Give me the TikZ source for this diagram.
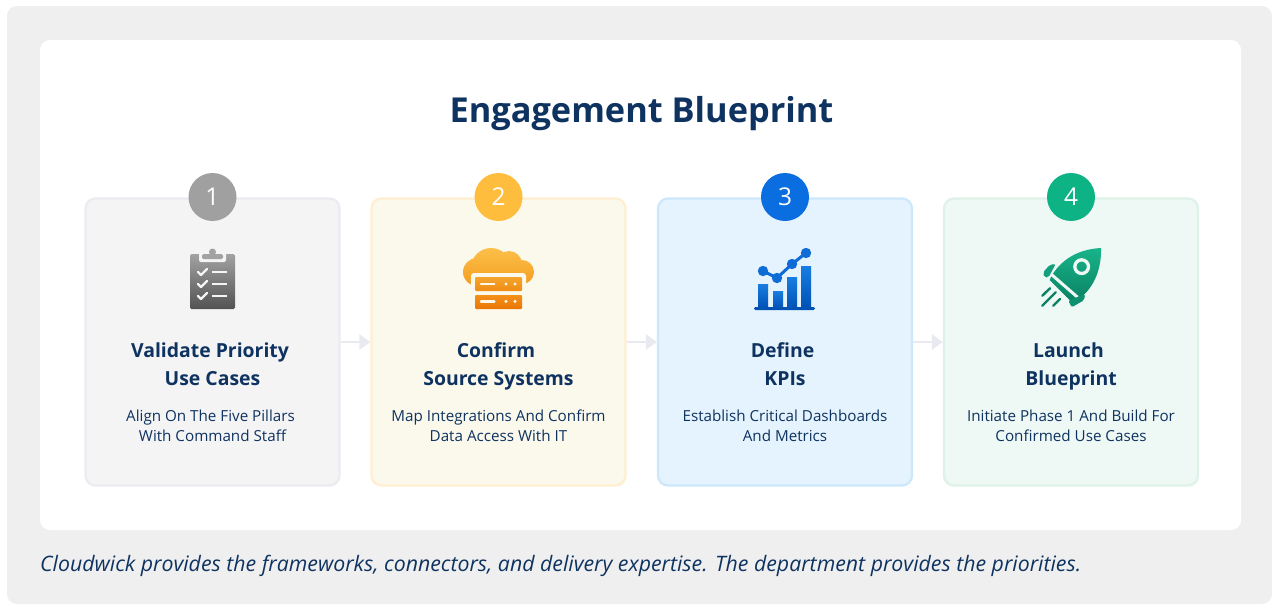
\documentclass[tikz,border=0pt]{standalone}
\usepackage{fontspec}
\setmainfont{Open Sans}
\usetikzlibrary{arrows.meta}
\definecolor{navy}{HTML}{0F3360}
\definecolor{outerbg}{HTML}{EFEFEF}
\definecolor{arrowc}{HTML}{E9EAF0}
\definecolor{cA}{HTML}{F4F4F5}\definecolor{bA}{HTML}{EBECF1}
\definecolor{cB}{HTML}{FBF8EC}\definecolor{bB}{HTML}{FFEFD0}
\definecolor{cC}{HTML}{E4F3FD}\definecolor{bC}{HTML}{CDE8FB}
\definecolor{cD}{HTML}{EEF8F4}\definecolor{bD}{HTML}{DFF2E8}
\definecolor{badgeA}{HTML}{A0A0A0}\definecolor{badgeB}{HTML}{FFBD3D}
\definecolor{badgeC}{HTML}{0A6EE0}\definecolor{badgeD}{HTML}{0DB385}
\definecolor{clipT}{HTML}{A2A2A2}\definecolor{clipB}{HTML}{525252}
\definecolor{clA}{HTML}{FCC04A}\definecolor{clB}{HTML}{F39B1E}
\definecolor{srvA}{HTML}{F5A52D}\definecolor{srvB}{HTML}{F08C14}\definecolor{srvC}{HTML}{F29119}\definecolor{srvD}{HTML}{EC7605}
\definecolor{barT}{HTML}{197DE1}\definecolor{barB}{HTML}{0052B4}\definecolor{dotC}{HTML}{0F6CD7}
\definecolor{rktT}{HTML}{18B48A}\definecolor{rktB}{HTML}{0A8264}\definecolor{rktM}{HTML}{0E9170}\definecolor{rktF}{HTML}{14A07D}
\tikzset{
 x=1pt,y=-1pt,
 card/.style={rounded corners=10pt,line width=2.3pt,minimum width=254pt,minimum height=287pt,inner sep=0pt},
 badge/.style={circle,minimum size=48pt,inner sep=0pt,text=white,font=\fontsize{24.5}{28}\selectfont},
 head/.style={align=center,text=navy,font=\bfseries\fontsize{19.4}{28}\selectfont,inner sep=0pt,anchor=base},
 sub/.style={align=center,text=navy,font=\fontsize{15.2}{20}\selectfont,inner sep=0pt,anchor=base},
 flow/.style={line width=2.8pt,draw=arrowc,-{Triangle[length=11pt,width=15pt]}},
 zoomed/.style={x=0.33333pt,y=-0.33333pt},
 barshade/.style={top color=barT,bottom color=barB},
}
\begin{document}
\begin{tikzpicture}
\useasboundingbox (0,0) rectangle (1272,605);
\fill[white] (0,0) rectangle (1272,605);
\fill[outerbg,rounded corners=10pt] (7,6) rectangle (1272,604);
\fill[white,rounded corners=10pt] (40,40) rectangle (1241,530);
\node[text=navy,inner sep=0pt,anchor=base,font=\bfseries\fontsize{34.35}{42}\selectfont] (title) at (641.5,122) {Engagement Blueprint};
\node[card,draw=bA,fill=cA] (c1) at (212.5,342) {};
\node[card,draw=bB,fill=cB] (c2) at (498.5,342) {};
\node[card,draw=bC,fill=cC] (c3) at (785,342) {};
\node[card,draw=bD,fill=cD] (c4) at (1071,342) {};
\draw[flow] (c1.east) -- (c2.west);
\draw[flow] (c2.east) -- (c3.west);
\draw[flow] (c3.east) -- (c4.west);
\node[badge,fill=badgeA] (b1) at (212.5,197) {1};
\node[badge,fill=badgeB] (b2) at (498.5,197) {2};
\node[badge,fill=badgeC] (b3) at (785,197) {3};
\node[badge,fill=badgeD] (b4) at (1071,197) {4};
% icon 1: clipboard
\shade[top color=clipT,bottom color=clipB,rounded corners=1.5pt] (190,254) rectangle (235,309);
\fill[cA,rounded corners=2pt] (199,252) rectangle (226,262);
\fill[clipT,rounded corners=1.5pt] (202,254) rectangle (223,259);
\fill[clipT] (212.5,252) circle (3.5);
\foreach \yy in {272,284,296}{
 \draw[cA,line width=2.2pt,line cap=round,line join=round] (198,\yy) -- (201,\yy+3) -- (207,\yy-3);
 \draw[cA,line width=2.2pt] (212,\yy) -- (227,\yy);
}
% icon 2: cloud server
\begin{scope}[shift={(455,244)},zoomed]
\shade[top color=clA,bottom color=clB]
 (66,84) circle (42) (108,72) circle (60) (162,60) circle (39) (201,84) circle (36);
\fill[cB,rounded corners=3pt] (48,87) rectangle (213,204);
\shade[top color=srvA,bottom color=srvB,rounded corners=1pt] (60,99) rectangle (201,141);
\shade[top color=srvC,bottom color=srvD,rounded corners=1pt] (60,153) rectangle (201,195);
\foreach \yy in {120,172}{
 \draw[cB,line width=2.4pt,line cap=round] (78,\yy) -- (118,\yy);
 \fill[cB] (153,\yy) circle (5.2) (180,\yy) circle (5.2);
}
\end{scope}
% icon 3: chart
\shade[barshade] (758,284) rectangle (768,308);
\shade[barshade] (773,291) rectangle (783,308);
\shade[barshade] (787,277) rectangle (797,308);
\shade[barshade] (801,266) rectangle (811,308);
\fill[barB,rounded corners=1.4pt] (754,307) rectangle (815,310);
\draw[cC,line width=5pt] (763,271) -- (777,278) -- (792,264) -- (806,253);
\draw[dotC,line width=3pt] (763,271) -- (777,278) -- (792,264) -- (806,253);
\foreach \px/\py in {763/271,777/278,792/264,806/253}{
 \fill[dotC] (\px,\py) circle (5.2);
}
% icon 4: rocket
\begin{scope}[shift={(1035,244)},zoomed]
\shade[top color=rktT,bottom color=rktB]
 (198,12) .. controls (140,15) and (85,38) .. (50,95) -- (44,108) -- (108,172) -- (125,170) .. controls (170,140) and (200,85) .. (198,12) -- cycle;
\draw[cD,line width=3pt] (50,92) -- (128,160);
\draw[cD,line width=3.3pt] (140,68) circle (20.5);
\fill[rktF,rounded corners=2pt] (24,85) -- (45,62) -- (62,60) -- (40,101) -- (28,100) -- cycle;
\fill[rktM,rounded corners=2pt] (100,170) -- (150,150) -- (148,168) -- (110,190) -- cycle;
\draw[rktB,line width=2.4pt,line cap=round]
 (22,155) -- (45,133) (22,185) -- (62,145) (55,185) -- (75,165);
\end{scope}
\node[head] (h1) at (212.5,385) {Validate Priority\hspace*{5pt}\\Use Cases};
\node[head] (h2) at (498.5,385) {Confirm\hspace*{5pt}\\Source Systems};
\node[head] (h3) at (785,385) {Define\hspace*{5pt}\\KPIs};
\node[head] (h4) at (1071,385) {Launch\hspace*{5pt}\\Blueprint};
\node[sub] (s1) at (212.5,441) {Align On The Five Pillars\hspace*{4pt}\\With Command Staff};
\node[sub] (s2) at (498.5,441) {Map Integrations And Confirm\\Data Access With IT};
\node[sub] (s3) at (785,441) {Establish Critical Dashboards\\And Metrics};
\node[sub] (s4) at (1071,441) {Initiate Phase 1 And Build For\\Confirmed Use Cases};
\node[anchor=base west,text=navy,inner sep=0pt,font=\itshape\fontsize{21.3}{26}\selectfont] (foot) at (40,571) {Cloudwick provides the frameworks, connectors, and delivery expertise. The department provides the priorities.};
\end{tikzpicture}
\end{document}
